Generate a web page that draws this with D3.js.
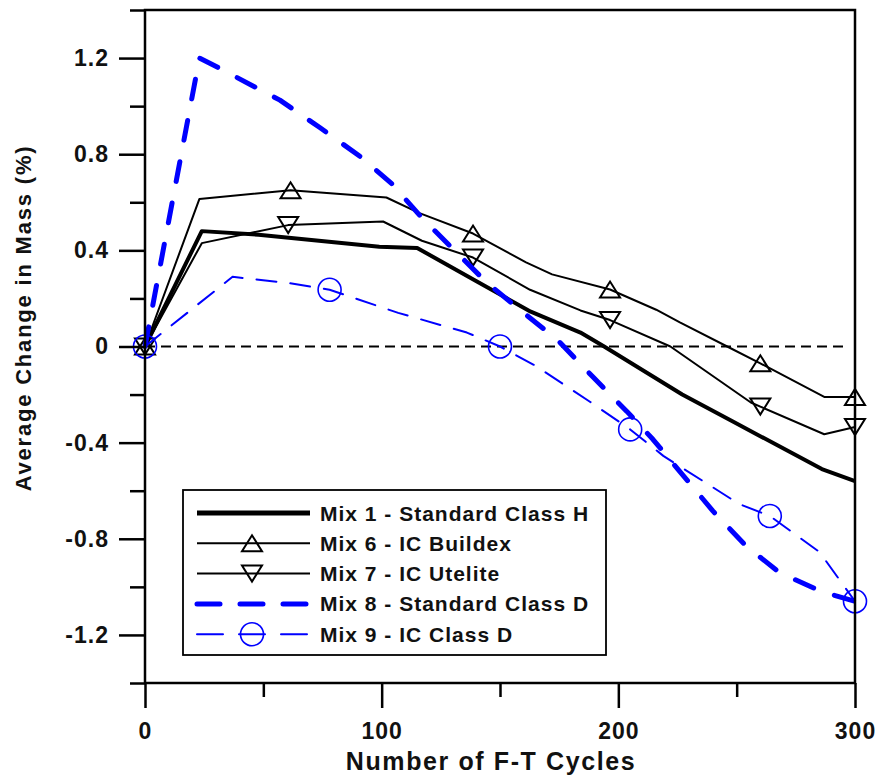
<!DOCTYPE html>
<html>
<head>
<meta charset="utf-8">
<script src="https://cdn.jsdelivr.net/npm/d3@7"></script>
<style>
  body { margin: 0; background: #fff; }
  svg text { font-family: "Liberation Sans", Arial, sans-serif; font-weight: bold; fill: #111; }
</style>
</head>
<body>
<script>
// chart size and frame
const w = 882;
const h = 778;
const marginTop = 10;
const marginRight = 27;
const marginBottom = 95;
const marginLeft = 145;

// tick values
const xMajor = [0, 100, 200, 300];
const xMinor = [50, 150, 250];
const yMajor = [-1.2, -0.8, -0.4, 0, 0.4, 0.8, 1.2];
const yMinor = [-1.4, -1.0, -0.6, -0.2, 0.2, 0.6, 1.0, 1.4];

// series names
const names = [
  "Mix 1 - Standard Class H",
  "Mix 6 - IC Buildex",
  "Mix 7 - IC Utelite",
  "Mix 8 - Standard Class D",
  "Mix 9 - IC Class D",
];

// [cycles, change in mass %]
const mix1 = [[0, 0], [24, 0.48], [48, 0.465], [99, 0.415], [115, 0.41], [141, 0.266], [163, 0.145], [184, 0.058], [194, 0], [227, -0.2], [248, -0.31], [286, -0.51], [300, -0.56]];
const mix6 = [[0, 0], [23, 0.614], [61.5, 0.65], [102, 0.62], [116, 0.555], [138.6, 0.47], [161, 0.35], [172, 0.3], [196.5, 0.237], [216, 0.153], [226, 0.1], [246, 0], [260, -0.07], [287, -0.21], [300, -0.21]];
const mix7 = [[0, 0], [24, 0.43], [60.5, 0.505], [100.6, 0.52], [117, 0.44], [138.6, 0.37], [162.7, 0.236], [184, 0.15], [196.5, 0.11], [222, 0], [256, -0.233], [260, -0.25], [287, -0.365], [300, -0.335]];
const mix8 = [[0, 0], [23, 1.2], [31, 1.16], [57, 1.025], [74, 0.91], [91, 0.79], [104, 0.68], [117.5, 0.53], [144.5, 0.265], [160, 0.14], [174, 0.03], [189, -0.124], [203.6, -0.27], [214.6, -0.386], [240, -0.685], [254, -0.83], [268, -0.94], [286, -1.02], [300, -1.06]];
const mix9 = [[0, 0], [37, 0.29], [60, 0.265], [78, 0.236], [107, 0.14], [136, 0.058], [150, 0], [165, -0.08], [188, -0.23], [205, -0.345], [219, -0.455], [251, -0.655], [264, -0.705], [285, -0.855], [300, -1.06]];

// marker points
const mix6Marks = [[0, 0], [61.5, 0.65], [138.6, 0.47], [196.5, 0.237], [260, -0.07], [300, -0.21]];
const mix7Marks = [[0, 0], [60.5, 0.505], [138.6, 0.37], [196.5, 0.11], [260, -0.25], [300, -0.335]];
const mix9Marks = [[0, 0], [78, 0.236], [150, 0], [205, -0.345], [264, -0.705], [300, -1.06]];

const blue = "#0000ff";
const styles = [
  { data: mix1, color: "#000", width: 4, dash: null, marks: null, shape: null },
  { data: mix6, color: "#000", width: 2, dash: null, marks: mix6Marks, shape: "up" },
  { data: mix7, color: "#000", width: 2, dash: null, marks: mix7Marks, shape: "down" },
  { data: mix8, color: blue, width: 5, dash: "20,22", marks: null, shape: null },
  { data: mix9, color: blue, width: 2, dash: "20,14", marks: mix9Marks, shape: "circle" },
];

const xScale = d3.scaleLinear().domain([0, 300]).range([marginLeft, w - marginRight]);
const yScale = d3.scaleLinear().domain([-1.4, 1.4]).range([h - marginBottom, marginTop]);

const svg = d3.select("body").append("svg").attr("width", w).attr("height", h);

// marker drawing
function marker(g, shape, color, x, y) {
  if (shape === "circle") {
    g.append("circle").attr("cx", x).attr("cy", y).attr("r", 11.5)
      .attr("fill", "none").attr("stroke", color).attr("stroke-width", 1.6);
  } else {
    const hw = 10, hh = 8;
    const pts = shape === "up"
      ? [[x - hw, y + hh], [x + hw, y + hh], [x, y - hh]]
      : [[x - hw, y - hh], [x + hw, y - hh], [x, y + hh]];
    g.append("path").attr("d", "M" + pts.join("L") + "Z")
      .attr("fill", "none").attr("stroke", color).attr("stroke-width", 2);
  }
}

// zero reference
svg.append("line")
  .attr("x1", xScale(0)).attr("x2", xScale(296))
  .attr("y1", yScale(0)).attr("y2", yScale(0))
  .attr("stroke", "#000").attr("stroke-width", 2.2)
  .attr("stroke-dasharray", "10,6");

const line = d3.line().x((d) => xScale(d[0])).y((d) => yScale(d[1]));

styles.forEach((s) => {
  svg.append("path")
    .datum(s.data)
    .attr("d", line)
    .attr("fill", "none")
    .attr("stroke", s.color)
    .attr("stroke-width", s.width)
    .attr("stroke-linejoin", "round")
    .attr("stroke-linecap", s.dash ? "round" : "butt")
    .attr("stroke-dasharray", s.dash);
  if (s.marks) {
    const g = svg.append("g");
    s.marks.forEach((d) => marker(g, s.shape, s.color, xScale(d[0]), yScale(d[1])));
  }
});

// axes
const axisStyle = (g) => {
  g.select(".domain").remove();
  g.selectAll("line").attr("stroke", "#000").attr("stroke-width", 2.5);
  g.selectAll("text").attr("font-size", "23px").attr("letter-spacing", "1px").attr("fill", "#111");
};

svg.append("g")
  .attr("transform", `translate(0,${h - marginBottom})`)
  .call(d3.axisBottom(xScale).tickValues(xMajor).tickSize(25).tickPadding(15).tickFormat(d3.format("d")))
  .call(axisStyle);
svg.append("g")
  .attr("transform", `translate(0,${h - marginBottom})`)
  .call(d3.axisBottom(xScale).tickValues(xMinor).tickSize(14).tickFormat(""))
  .call(axisStyle);
svg.append("g")
  .attr("transform", `translate(${marginLeft},0)`)
  .call(d3.axisLeft(yScale).tickValues(yMajor).tickSize(26).tickPadding(10)
    .tickFormat((d) => (d === 0 ? "0" : d3.format(".1f")(d).replace("\u2212", "-"))))
  .call(axisStyle);
svg.append("g")
  .attr("transform", `translate(${marginLeft},0)`)
  .call(d3.axisLeft(yScale).tickValues(yMinor).tickSize(15).tickFormat(""))
  .call(axisStyle);

// frame
svg.append("rect")
  .attr("x", marginLeft).attr("y", marginTop)
  .attr("width", w - marginRight - marginLeft)
  .attr("height", h - marginBottom - marginTop)
  .attr("fill", "none").attr("stroke", "#000").attr("stroke-width", 2.5);

// axis titles
svg.append("text")
  .attr("x", (marginLeft + w - marginRight) / 2 - 9)
  .attr("y", 770)
  .attr("text-anchor", "middle")
  .attr("font-size", "25px")
  .attr("letter-spacing", "1.6px")
  .text("Number of F-T Cycles");
svg.append("text")
  .attr("transform", `translate(31,${318}) rotate(-90)`)
  .attr("text-anchor", "middle")
  .attr("font-size", "22px")
  .attr("letter-spacing", "1.8px")
  .text("Average Change in Mass (%)");

// legend
const legend = svg.append("g");
legend.append("rect")
  .attr("x", 183).attr("y", 490).attr("width", 423).attr("height", 165)
  .attr("fill", "#fff").attr("stroke", "#000").attr("stroke-width", 1.8);
names.forEach((name, i) => {
  const s = styles[i];
  const y = 513 + i * 30.3;
  legend.append("line")
    .attr("x1", 197).attr("x2", 310).attr("y1", y).attr("y2", y)
    .attr("stroke", s.color)
    .attr("stroke-width", s.width === 4 ? 5 : s.width)
    .attr("stroke-linecap", s.dash ? "round" : "butt")
    .attr("stroke-dasharray", s.dash ? (s.width > 3 ? "23,20" : "26,16") : null);
  if (s.shape) marker(legend, s.shape, s.color, 252, y);
  legend.append("text")
    .attr("x", 320).attr("y", y)
    .attr("dy", "0.36em")
    .attr("font-size", "21px")
    .attr("letter-spacing", "1px")
    .text(name);
});
</script>
</body>
</html>
